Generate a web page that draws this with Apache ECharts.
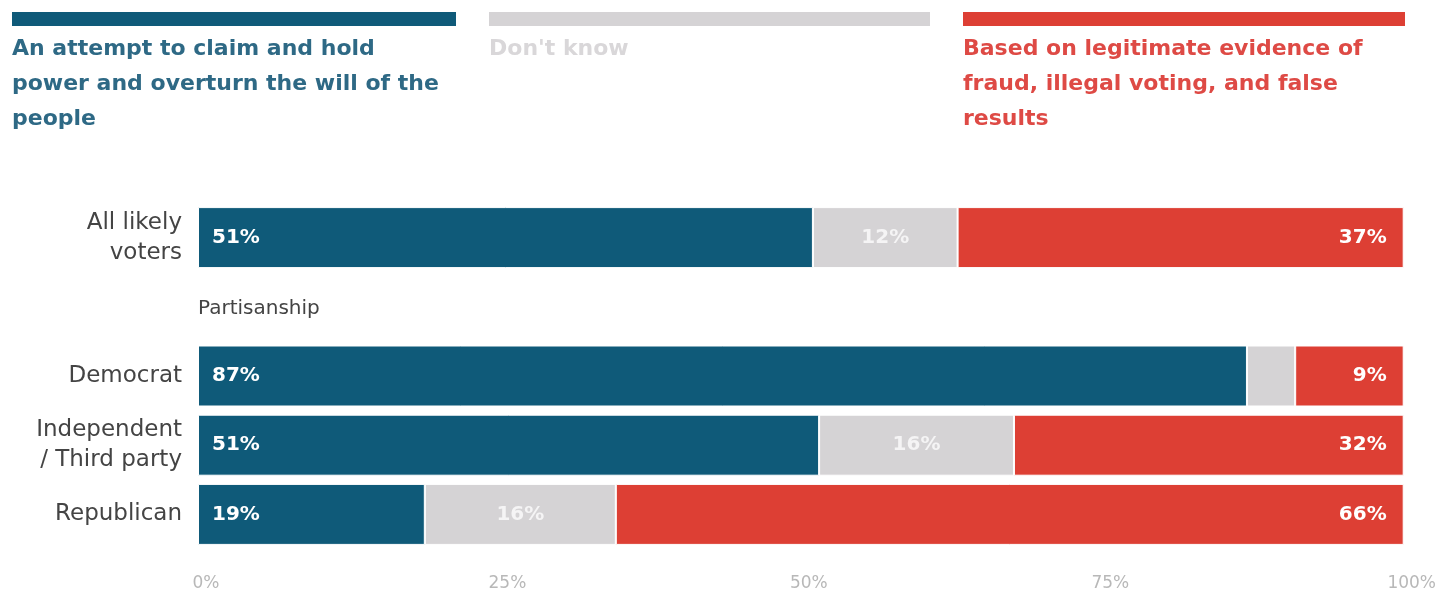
<!DOCTYPE html>
<html><head><meta charset="utf-8">
<script src="https://cdn.jsdelivr.net/npm/echarts@6/dist/echarts.min.js"></script>
<style>html,body{margin:0;padding:0;background:#fff}#c{width:1439px;height:594px}</style>
</head><body><div id="c"></div>
<script>
const categories = ['All likely\nvoters', '', 'Democrat', 'Independent\n/ Third party', 'Republican'];
const attempt = [51, null, 87, 51, 19];
const dontKnow = [12, null, 4, 16, 16];
const fraud = [37, null, 9, 32, 66];
const showDontKnowLabel = [true, false, false, true, true];
const seriesNames = ['An attempt to claim and hold\npower and overturn the will of the\npeople', "Don't know", 'Based on legitimate evidence of\nfraud, illegal voting, and false\nresults'];
const xTicks = [0, 25, 50, 75, 100];
const colors = ['#0f5a79', '#d5d3d5', '#dd3f34'];
const legendTextColors = ['#2e6985', '#d9d7d9', '#de4a45'];

const totals = categories.map((c, i) => attempt[i] == null ? null : attempt[i] + dontKnow[i] + fraud[i]);
const norm = arr => arr.map((v, i) => v == null ? null : v / totals[i] * 100);

const font = '"DejaVu Sans", Verdana, sans-serif';
const chart = echarts.init(document.getElementById('c'));

function mkSeries(name, arr, color, idx, labelCfg) {
  return {
    name: name, type: 'bar', stack: 'all', barWidth: 61,
    data: norm(arr).map((v, i) => ({value: v, raw: arr[i], idx: i})),
    itemStyle: {color: color, borderColor: '#fff', borderWidth: 1},
    label: Object.assign({
      show: true, color: '#fff', fontFamily: font, fontWeight: 'bold', fontSize: 20,
      formatter: p => p.data.raw == null ? '' : p.data.raw + '%'
    }, labelCfg),
    emphasis: {disabled: true}, animation: false
  };
}

const legendGraphics = [];
const lx = [12, 489, 963], lw = [444, 441, 442];
for (let k = 0; k < 3; k++) {
  legendGraphics.push({type: 'rect', left: lx[k], top: 12, shape: {width: lw[k], height: 14}, style: {fill: colors[k]}});
  legendGraphics.push({type: 'text', left: lx[k], top: 32, style: {text: seriesNames[k], fill: legendTextColors[k], font: 'bold 22px ' + font, lineHeight: 35}});
}
legendGraphics.push({type: 'text', left: 198, top: 299, style: {text: 'Partisanship', fill: '#444', font: '20px ' + font}});

chart.setOption({
  animation: false,
  grid: {left: 198, right: 33, top: 203, bottom: 45, containLabel: false},
  xAxis: {
    type: 'value', min: 0, max: 100, interval: 25,
    axisLine: {show: false}, axisTick: {show: false}, splitLine: {show: false},
    axisLabel: {formatter: v => xTicks.includes(v) ? v + '%' : '', color: '#b8b8b8', fontFamily: font, fontSize: 17, margin: 26, padding: [0, 0, 0, 16]}
  },
  yAxis: {
    type: 'category', data: categories, inverse: true,
    axisLine: {show: false}, axisTick: {show: false},
    axisLabel: {color: '#444', fontFamily: font, fontSize: 23, lineHeight: 30, margin: 16, align: 'right'}
  },
  series: [
    mkSeries(seriesNames[0], attempt, colors[0], 0, {position: 'insideLeft', distance: 14}),
    mkSeries(seriesNames[1], dontKnow, colors[1], 1, {position: 'inside', color: 'rgba(255,255,255,0.75)',
      formatter: p => (p.data.raw == null || !showDontKnowLabel[p.data.idx]) ? '' : p.data.raw + '%'}),
    mkSeries(seriesNames[2], fraud, colors[2], 2, {position: 'insideRight', distance: 17})
  ],
  graphic: legendGraphics
});
</script></body></html>
